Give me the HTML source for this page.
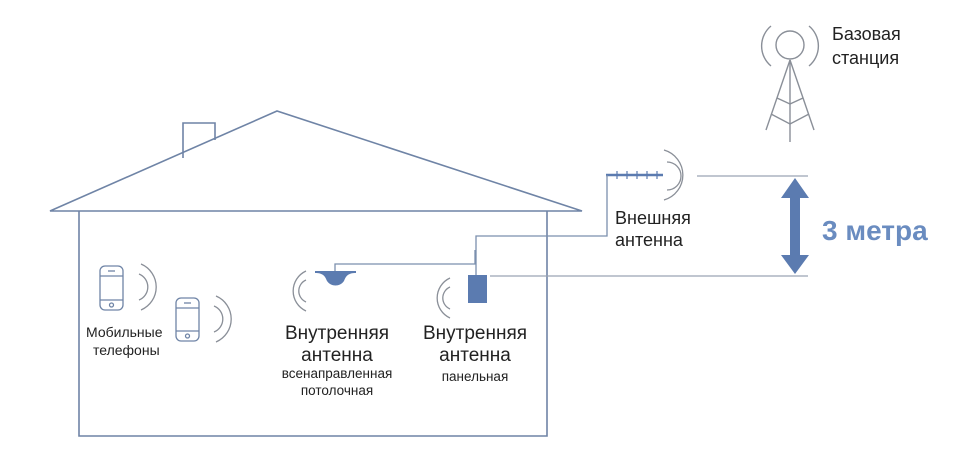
<!DOCTYPE html>
<html><head><meta charset="utf-8"><style>
body{margin:0;background:#fff;}
svg text{font-family:"Liberation Sans",sans-serif;fill:#222;}
</style></head><body>
<svg width="960" height="470" viewBox="0 0 960 470" xmlns="http://www.w3.org/2000/svg">
<g fill="none" stroke="#6f84a6" stroke-width="1.6">
<polyline points="183,158 183,123 215,123 215,140"/>
<polygon points="50,211 277,111 582,211"/>
<polyline points="79,211 79,436 547,436 547,211"/>
</g>
<g fill="none" stroke="#8a8f98" stroke-width="1.4">
<circle cx="790" cy="45" r="14"/>
<path d="M771,26 A26,26 0 0 0 771,66"/>
<path d="M809,26 A26,26 0 0 1 809,66"/>
<line x1="790" y1="60" x2="790" y2="142"/>
<line x1="790" y1="60" x2="766" y2="130"/>
<line x1="790" y1="60" x2="814" y2="130"/>
<polyline points="777,98 790,104 803,98"/>
<polyline points="771,114 790,124 809,114"/>
</g>
<text x="832" y="40" font-size="18">Базовая</text>
<text x="832" y="64" font-size="18">станция</text>
<g stroke="#5b7bb0" stroke-width="2.5"><line x1="606" y1="175" x2="663" y2="175"/></g>
<g stroke="#5b7bb0" stroke-width="1.2">
<line x1="617" y1="171" x2="617" y2="179"/><line x1="627" y1="171" x2="627" y2="179"/><line x1="637" y1="171" x2="637" y2="179"/><line x1="647" y1="171" x2="647" y2="179"/><line x1="657" y1="171" x2="657" y2="179"/>
</g>
<g fill="none" stroke="#8a8f98" stroke-width="1.3">
<path d="M667,162 A14,14 0 0 1 667,190"/>
<path d="M664,150 A26,26 0 0 1 664,200"/>
<line x1="697" y1="176" x2="808" y2="176" stroke="#9aa3b3"/>
<line x1="490" y1="276" x2="808" y2="276" stroke="#9aa3b3"/>
</g>
<g fill="none" stroke="#7b8fae" stroke-width="1.3">
<polyline points="607,175 607,236 476,236 476,275"/>
<polyline points="475,250 475,264 335,264 335,271"/>
</g>
<text x="615" y="224" font-size="18">Внешняя</text>
<text x="615" y="246" font-size="18">антенна</text>
<polygon points="795,178 809,198 800,198 800,255 809,255 795,274 781,255 790,255 790,198 781,198" fill="#5b7bb0"/>
<text x="822" y="240" font-size="28" font-weight="bold" style="fill:#6a8cc0">3 метра</text>
<rect x="468" y="275" width="19" height="28" fill="#5b7bb0"/>
<path d="M315,271 L356,271 L356,273 C348,273 346,276 344,281 C340,287 331,287 327,281 C325,276 323,273 315,273 Z" fill="#5b7bb0"/>
<g fill="none" stroke="#8a8f98" stroke-width="1.3">
<path d="M306,280 A12,12 0 0 0 306,302"/>
<path d="M306,271 A22,22 0 0 0 306,311"/>
<path d="M450,287 A12,12 0 0 0 450,309"/>
<path d="M450,278 A22,22 0 0 0 450,318"/>
<path d="M139,274 A14,14 0 0 1 139,300"/>
<path d="M141,264 A25,25 0 0 1 141,310"/>
<path d="M214,306 A14,14 0 0 1 214,332"/>
<path d="M216,296 A25,25 0 0 1 216,342"/>
</g>
<g fill="none" stroke="#6f84a6" stroke-width="1.3">
<rect x="100" y="266" width="23" height="44" rx="5"/>
<line x1="100" y1="276" x2="123" y2="276"/><line x1="100" y1="300" x2="123" y2="300"/>
<circle cx="111.5" cy="305" r="2"/><line x1="108" y1="271" x2="115" y2="271"/>
<rect x="176" y="298" width="23" height="43" rx="5"/>
<line x1="176" y1="308" x2="199" y2="308"/><line x1="176" y1="331" x2="199" y2="331"/>
<circle cx="187.5" cy="336" r="2"/><line x1="184" y1="303" x2="191" y2="303"/>
</g>
<text x="86" y="337" font-size="14">Мобильные</text>
<text x="93" y="355" font-size="14">телефоны</text>
<g text-anchor="middle">
<text x="337" y="339" font-size="19">Внутренняя</text>
<text x="337" y="361" font-size="19">антенна</text>
<text x="337" y="378" font-size="13.5">всенаправленная</text>
<text x="337" y="395" font-size="13.5">потолочная</text>
<text x="475" y="339" font-size="19">Внутренняя</text>
<text x="475" y="361" font-size="19">антенна</text>
<text x="475" y="381" font-size="13.5">панельная</text>
</g>
</svg>
</body></html>
